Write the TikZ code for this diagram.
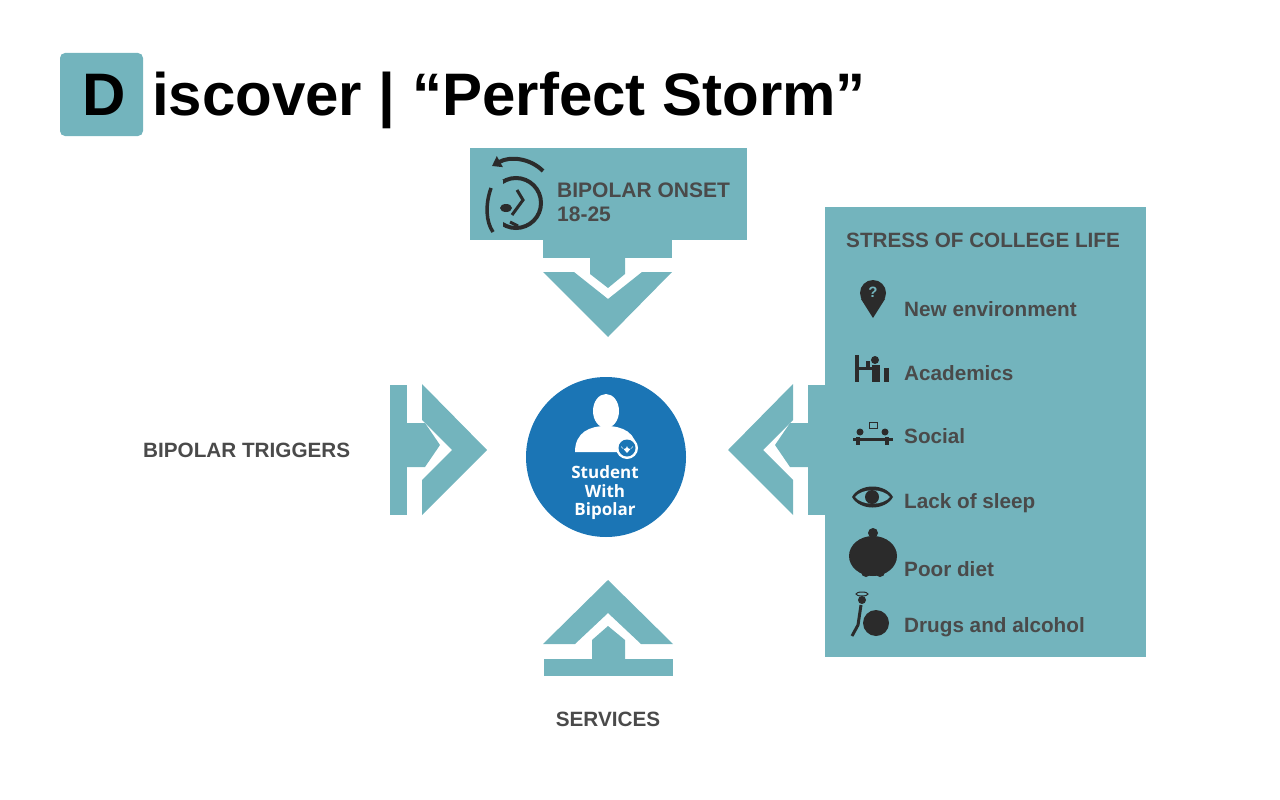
\documentclass[tikz,border=0pt]{standalone}
\usepackage{fontspec}
\setmainfont{Liberation Sans}
\newfontfamily\opensans{Open Sans}
\usetikzlibrary{arrows.meta}
\definecolor{teal}{HTML}{73B4BD}
\definecolor{dblue}{HTML}{1B75B5}
\definecolor{dgray}{HTML}{4A4A4A}
\definecolor{icon}{HTML}{2B2B2B}
\begin{document}
\begin{tikzpicture}[x=1pt,y=-1pt,
  sh/.style={fill=teal,draw=none},
  lab/.style={text=dgray,font=\bfseries\fontsize{20.7}{22}\selectfont,anchor=west,inner sep=0},
  item/.style={text=dgray,font=\bfseries\fontsize{20.7}{22}\selectfont,anchor=west,inner sep=0},
  ic/.style={fill=icon,draw=none}]
\useasboundingbox (0,0) rectangle (1280,800);
% title
\fill[teal,rounded corners=5pt] (60,53) rectangle (143,136);
\node[anchor=base,inner sep=0,font=\bfseries\fontsize{60}{62}\selectfont] (D) at (104,115) {D};
\node[anchor=base west,inner sep=0,font=\bfseries\fontsize{60}{62}\selectfont] (title) at (152,115) {iscover | “Perfect Storm”};
% top arrow
\fill[sh] (470,148) rectangle (747,240);
\fill[sh] (543,240) rectangle (672,258);
\fill[sh] (590,258) -- (625,258) -- (625,274) -- (608,288) -- (590,274) -- cycle;
\fill[sh] (543,272) -- (574,272) -- (608,299) -- (642,272) -- (672,272) -- (608,337) -- cycle;
\node[lab,font=\bfseries\fontsize{21}{24}\selectfont,align=left,anchor=north west] (onset) at (557,183) {BIPOLAR ONSET\\18-25};
% onset icon
\draw[icon,line width=4pt] (516,203) circle (25);
\fill[teal] (486,180) rectangle (503,235);
\draw[icon,line width=3.5pt] (491,188) .. controls (485,205) and (486,222) .. (493,232);
\draw[icon,line width=3pt] (512,215) -- (523,200) -- (517,190);
\fill[icon] (506,208) ellipse (6 and 4);
\draw[icon,line width=3pt] (510,222) -- (518,226);
\draw[icon,line width=4pt,-{Triangle[length=9pt,width=12pt]}] (543,171) .. controls (530,158) and (510,156) .. (492,166);
% left arrow
\fill[sh] (390,385) rectangle (407,515);
\fill[sh] (407,423) -- (425,423) -- (440,445) -- (425,467) -- (407,467) -- cycle;
\fill[sh] (422,384) -- (487,450) -- (422,515) -- (422,480) -- (452,450) -- (422,420) -- cycle;
\node[lab] (trig) at (143,450) {BIPOLAR TRIGGERS};
% right arrow
\fill[sh] (808,385) rectangle (826,515);
\fill[sh] (808,423) -- (790,423) -- (775,445) -- (790,467) -- (808,467) -- cycle;
\fill[sh] (793,384) -- (728,450) -- (793,515) -- (793,480) -- (763,450) -- (793,420) -- cycle;
% bottom arrow
\fill[sh] (608,580) -- (673,644) -- (641,644) -- (608,613) -- (575,644) -- (543,644) -- cycle;
\fill[sh] (592,659) -- (592,640) -- (608,626) -- (625,640) -- (625,659) -- cycle;
\fill[sh] (544,659) rectangle (673,676);
\node[lab,anchor=center] (serv) at (608,719) {SERVICES};
% center circle
\node[circle,fill=dblue,minimum size=160pt,inner sep=0] (stu) at (606,457) {};
\fill[white] (606,411) ellipse (13 and 17);
\fill[white] (575,452) .. controls (575,432) and (590,426) .. (606,426) .. controls (622,426) and (637,432) .. (637,452) -- cycle;
\fill[white] (627,448) circle (11);
\fill[dblue] (627,448) circle (8.5);
\fill[white] (627,453) -- (621,446) arc (180:0:3) arc (180:0:3) -- cycle;
\node[text=white,font=\opensans\bfseries\fontsize{17}{18.5}\selectfont,align=center,inner sep=0] (stt) at (605,493) {Student\\With\\Bipolar};
% right box
\fill[sh] (825,207) rectangle (1146,657);
\node[item] (stress) at (846,240) {STRESS OF COLLEGE LIFE};
\node[item] (i1) at (904,309) {New environment};
\node[item] (i2) at (904,373) {Academics};
\node[item] (i3) at (904,436) {Social};
\node[item] (i4) at (904,503) {Lack of sleep};
\node[item] (i5) at (904,569) {Poor diet};
\node[item] (i6) at (904,627) {Drugs and alcohol};
% icons
\fill[ic] (873,293) circle (13);
\fill[ic] (861,299) -- (873,318) -- (885,299) -- cycle;
\node[text=teal,font=\bfseries\fontsize{15}{15}\selectfont] (q) at (873,292) {?};
\fill[ic] (855,355) rectangle (859,382);
\fill[ic] (859,367) rectangle (880,370);
\fill[ic] (875,360) circle (4);
\fill[ic] (872,365) rectangle (880,382);
\fill[ic] (884,368) rectangle (889,382);
\fill[ic] (866,361) rectangle (870,367);
\fill[ic] (853,438) rectangle (893,441);
\fill[ic] (860,432) circle (3.5);\fill[ic] (885,432) circle (3.5);
\fill[ic] (856,437) rectangle (860,445);\fill[ic] (885,437) rectangle (889,445);
\draw[icon,line width=1pt] (869,422) rectangle (877,428);
\fill[ic] (852,497) .. controls (860,483) and (885,483) .. (893,497) .. controls (885,511) and (860,511) .. (852,497) -- cycle;
\fill[teal] (855,497) .. controls (862,488) and (883,488) .. (890,497) .. controls (883,506) and (862,506) .. (855,497) -- cycle;
\fill[ic] (872,497) circle (7);
\fill[ic] (873,533) circle (5);
\fill[ic] (873,556) ellipse (24 and 20);
\fill[ic] (866,572) circle (5);\fill[ic] (880,572) circle (5);
\fill[teal] (866,580) rectangle (880,586);
\fill[ic] (876,623) circle (13);
\fill[ic] (862,600) circle (4);
\draw[icon,line width=1pt] (862,594) ellipse (6 and 2);
\draw[icon,line width=3pt] (861,605) -- (858,625) -- (852,636);
\end{tikzpicture}
\end{document}
